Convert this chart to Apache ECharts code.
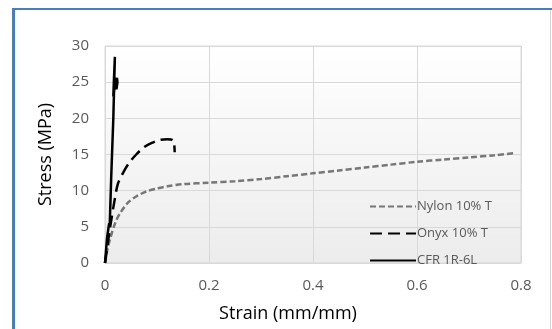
<!DOCTYPE html>
<html>
<head>
<meta charset="utf-8">
<script src="https://cdn.jsdelivr.net/npm/echarts@6/dist/echarts.min.js"></script>
<style>
  html, body { margin: 0; padding: 0; background: #fff; }
  #chart { width: 552px; height: 329px; }
</style>
</head>
<body>
<div id="chart"></div>
<script>
// values
const seriesNames = ['Nylon 10% T', 'Onyx 10% T', 'CFR 1R-6L'];

const nylonStrain = [0, 0.005, 0.01, 0.02, 0.03, 0.045, 0.06, 0.08, 0.1, 0.12, 0.15, 0.2, 0.25, 0.3, 0.35, 0.4, 0.45, 0.5, 0.55, 0.6, 0.65, 0.7, 0.75, 0.79];
const nylonStress = [0, 2.0, 3.4, 5.6, 7.0, 8.4, 9.2, 9.9, 10.3, 10.6, 10.9, 11.1, 11.3, 11.6, 12.0, 12.4, 12.8, 13.2, 13.6, 14.0, 14.3, 14.6, 14.9, 15.2];

const onyxStrain = [0, 0.005, 0.01, 0.018, 0.025, 0.035, 0.045, 0.06, 0.075, 0.09, 0.105, 0.12, 0.13, 0.133, 0.134];
const onyxStress = [0, 2.5, 5.0, 8.5, 11.0, 12.5, 13.7, 15.0, 16.0, 16.6, 17.0, 17.1, 17.0, 16.4, 15.3];

const cfrStrain = [0, 0.004, 0.008, 0.009, 0.012, 0.016, 0.019, 0.017, 0.016, 0.018, 0.023, 0.024, 0.022];
const cfrStress = [0, 3.5, 5.5, 5.0, 12.0, 20.0, 28.5, 25.0, 23.0, 24.0, 25.6, 25.0, 24.0];

const pairs = (xs, ys) => xs.map((x, i) => [x, ys[i]]);

const chart = echarts.init(document.getElementById('chart'));

const labelFont = '"Open Sans", Lato, sans-serif';

let option = {
    animation: false,
    backgroundColor: '#ffffff',
    grid: {
        left: 105,
        right: 31,
        top: 46,
        bottom: 66,
        show: true,
        borderColor: '#d9d9d9',
        borderWidth: 1,
        backgroundColor: new echarts.graphic.LinearGradient(0, 0, 0, 1, [
            { offset: 0, color: '#ffffff' },
            { offset: 1, color: '#ececec' }
        ])
    },
    legend: {
        orient: 'vertical',
        left: 364,
        top: 195,
        itemWidth: 46,
        itemHeight: 14,
        itemGap: 14,
        data: seriesNames,
        itemStyle: { opacity: 0 },
        textStyle: {
            color: '#595959',
            fontSize: 13,
            fontFamily: labelFont,
            padding: [0, 0, 0, -4]
        }
    },
    xAxis: {
        type: 'value',
        min: 0,
        max: 0.8,
        interval: 0.2,
        name: 'Strain (mm/mm)',
        nameLocation: 'middle',
        nameGap: 42,
        nameTextStyle: {
            color: '#000',
            fontSize: 18,
            fontFamily: labelFont,
            padding: [0, 50, 0, 0]
        },
        axisLine: { show: true, lineStyle: { color: '#d9d9d9' } },
        axisTick: { show: false },
        axisLabel: {
            color: '#595959',
            fontSize: 15,
            fontFamily: labelFont,
            margin: 15
        },
        splitLine: { show: true, lineStyle: { color: '#d9d9d9' } }
    },
    yAxis: {
        type: 'value',
        min: 0,
        max: 30,
        interval: 5,
        name: 'Stress (MPa)',
        nameLocation: 'middle',
        nameGap: 50,
        nameTextStyle: {
            color: '#000',
            fontSize: 18,
            fontFamily: labelFont
        },
        axisLine: { show: false },
        axisTick: { show: false },
        axisLabel: {
            color: '#595959',
            fontSize: 15,
            fontFamily: labelFont,
            margin: 16
        },
        splitLine: { show: true, lineStyle: { color: '#d9d9d9' } }
    },
    graphic: [
        { type: 'rect', shape: { x: 12, y: 8, width: 3, height: 321 }, style: { fill: '#4a7ebb' } },
        { type: 'rect', shape: { x: 12, y: 8, width: 540, height: 2 }, style: { fill: '#4a7ebb' } },
        { type: 'rect', shape: { x: 550, y: 10, width: 1, height: 319 }, style: { fill: '#d4d4d4' } }
    ],
    series: [
        {
            name: seriesNames[0],
            type: 'line',
            symbol: 'none',
            smooth: 0.3,
            data: pairs(nylonStrain, nylonStress),
            lineStyle: { color: '#777777', width: 2.5, type: [6, 3] },
            itemStyle: { color: '#777777' }
        },
        {
            name: seriesNames[1],
            type: 'line',
            symbol: 'none',
            smooth: 0.3,
            data: pairs(onyxStrain, onyxStress),
            lineStyle: { color: '#000000', width: 2.5, type: [12, 6] },
            itemStyle: { color: '#000000' }
        },
        {
            name: seriesNames[2],
            type: 'line',
            symbol: 'none',
            data: pairs(cfrStrain, cfrStress),
            lineStyle: { color: '#000000', width: 2.5 },
            itemStyle: { color: '#000000' }
        }
    ]
};

chart.setOption(option);
</script>
</body>
</html>
